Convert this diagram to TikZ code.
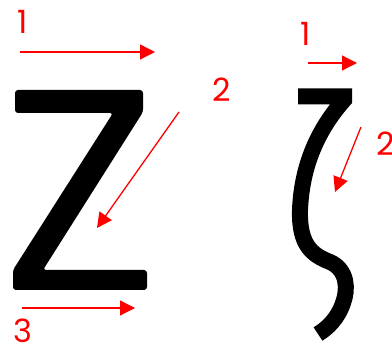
\documentclass[tikz,border=0pt]{standalone}
\usepackage{fontspec}
\setmainfont{Poppins}
\usetikzlibrary{arrows.meta}
\definecolor{markRed}{HTML}{FF0000}

\begin{document}
\begin{tikzpicture}[x=1pt, y=-1pt,
    num/.style={text=markRed, font=\fontsize{32}{32}\selectfont, inner sep=0pt},
    arrow/.style={-{Triangle[length=15pt, width=15pt]}, markRed, line width=1.3pt},
    glyph/.style={fill=black, rounded corners=3pt},
    pen/.style={draw=black, line width=16pt, line join=miter},
]
    \useasboundingbox (0,0) rectangle (392,347);

    % Latin Z
    \fill[glyph] (15,90) -- (143,90) -- (143,112) -- (43,270) -- (147,270) -- (147,290)
        -- (13,290) -- (13,270) -- (113,113) -- (15,113) -- cycle;

    % Greek zeta
    \draw[pen] (298,96.5) -- (344,96.5) -- (344,100)
        .. controls (322,125) and (302,160) .. (300,210)
        .. controls (299,245) and (312,255) .. (330,262)
        .. controls (348,270) and (348,290) .. (343,303)
        .. controls (338,318) and (328,328) .. (318,334);

    % Numbers
    \node[num] (z1) at (22.5,21.5) {1};
    \node[num] (z2) at (221.5,90) {2};
    \node[num] (z3) at (22.5,331) {3};
    \node[num] (zeta1) at (306,34) {1};
    \node[num] (zeta2) at (385.5,144) {2};

    % Stroke ends
    \coordinate (z1a) at (20,52);
    \coordinate (z1b) at (155,52);
    \coordinate (z2a) at (179,112);
    \coordinate (z2b) at (97,228);
    \coordinate (z3a) at (22,308);
    \coordinate (z3b) at (135,308);
    \coordinate (zeta1a) at (308,63);
    \coordinate (zeta1b) at (357,63);
    \coordinate (zeta2a) at (361,127);
    \coordinate (zeta2b) at (335,192);

    \draw[arrow] (z1a) -- (z1b);
    \draw[arrow] (z2a) -- (z2b);
    \draw[arrow] (z3a) -- (z3b);
    \draw[arrow] (zeta1a) -- (zeta1b);
    \draw[arrow] (zeta2a) -- (zeta2b);
\end{tikzpicture}
\end{document}
